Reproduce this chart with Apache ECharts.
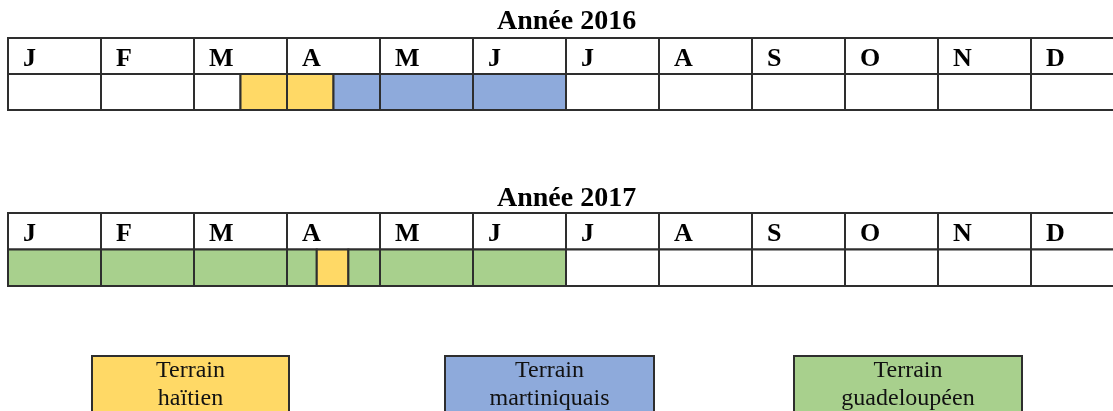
<!DOCTYPE html>
<html>
<head>
<meta charset="utf-8">
<script src="https://cdn.jsdelivr.net/npm/echarts@6/dist/echarts.min.js"></script>
<style>
  html, body { margin: 0; padding: 0; background: #fff; }
  #chart { width: 1113px; height: 411px; }
</style>
</head>
<body>
<div id="chart"></div>
<script>
// mois (en-tête des deux tableaux)
const months = ["J", "F", "M", "A", "M", "J", "J", "A", "S", "O", "N", "D"];
const years = ["Année 2016", "Année 2017"];
const terrains = ["Terrain\nhaïtien", "Terrain\nmartiniquais", "Terrain\nguadeloupéen"];
const terrainColors = ["#FFD966", "#8EAADB", "#A8D08D"];

// cases de la ligne de données : [début (mois), fin (mois), terrain] ; -1 = vide
const cells2016 = [
  [0, 1, -1], [1, 2, -1], [2, 2.5, -1], [2.5, 3, 0], [3, 3.5, 0], [3.5, 4, 1],
  [4, 5, 1], [5, 6, 1], [6, 7, -1], [7, 8, -1], [8, 9, -1], [9, 10, -1],
  [10, 11, -1], [11, 12, -1]
];
const cells2017 = [
  [0, 1, 2], [1, 2, 2], [2, 3, 2], [3, 3.32, 2], [3.32, 3.66, 0], [3.66, 4, 2],
  [4, 5, 2], [5, 6, 2], [6, 7, -1], [7, 8, -1], [8, 9, -1], [9, 10, -1],
  [10, 11, -1], [11, 12, -1]
];

const chart = echarts.init(document.getElementById("chart"));
const serif = "'Liberation Serif', 'DejaVu Serif', serif";
const border = "#2e2e2e";
const colWidth = 93; // px par mois, le tableau déborde à droite comme l'original

function cellRect(api, x0, x1, y0, y1, fill) {
  const a = api.coord([x0, y0]);
  const b = api.coord([x1, y1]);
  return {
    type: "rect",
    shape: { x: a[0], y: b[1], width: b[0] - a[0], height: a[1] - b[1] },
    style: { fill: fill, stroke: border, lineWidth: 2 },
  };
}

function headerSeries(idx) {
  return {
    type: "custom",
    xAxisIndex: idx,
    yAxisIndex: idx,
    clip: false,
    data: months.map((m, i) => [i, i + 1]),
    renderItem: (params, api) => {
      const i = params.dataIndex;
      const rect = cellRect(api, i, i + 1, 1, 2, "#fff");
      const p = api.coord([i, 1.5]);
      return {
        type: "group",
        children: [
          rect,
          {
            type: "text",
            style: {
              text: months[i],
              x: p[0] + 15,
              y: p[1] + 3,
              verticalAlign: "middle",
              font: "bold 26px " + serif,
              fill: "#000",
            },
          },
        ],
      };
    },
  };
}

function cellSeries(idx, cells) {
  return {
    type: "custom",
    xAxisIndex: idx,
    yAxisIndex: idx,
    clip: false,
    data: cells.map((c) => [c[0], c[1]]),
    renderItem: (params, api) => {
      const c = cells[params.dataIndex];
      return cellRect(api, c[0], c[1], 0, 1, c[2] < 0 ? "#fff" : terrainColors[c[2]]);
    },
  };
}

const gridTops = [38, 213];
const titleTops = [8, 185];

const legendBoxes = [
  { x: 91, w: 197 },
  { x: 444, w: 209 },
  { x: 793, w: 228 },
];

const option = {
  animation: false,
  title: years.map((y, i) => ({
    text: y,
    left: 497,
    top: titleTops[i],
    padding: 0,
    textStyle: { fontFamily: serif, fontWeight: "bold", fontSize: 28, color: "#000" },
  })),
  grid: gridTops.map((t, i) => ({
    left: 8,
    right: 0,
    top: t,
    height: i === 0 ? 72 : 73,
  })),
  xAxis: gridTops.map((t, i) => ({
    type: "value",
    gridIndex: i,
    min: 0,
    max: 1105 / colWidth,
    show: false,
  })),
  yAxis: gridTops.map((t, i) => ({
    type: "value",
    gridIndex: i,
    min: 0,
    max: 2,
    show: false,
  })),
  series: [
    headerSeries(0),
    cellSeries(0, cells2016),
    headerSeries(1),
    cellSeries(1, cells2017),
  ],
  graphic: legendBoxes.map((b, i) => ({
    type: "group",
    left: b.x,
    top: 355,
    children: [
      {
        type: "rect",
        shape: { x: 0, y: 0, width: b.w, height: 70 },
        style: { fill: terrainColors[i], stroke: border, lineWidth: 2 },
      },
      {
        type: "text",
        style: {
          text: terrains[i],
          x: b.w / 2,
          y: 1,
          align: "center",
          font: "24px " + serif,
          lineHeight: 28,
          fill: "#111",
        },
      },
    ],
  })),
};

chart.setOption(option);
</script>
</body>
</html>
